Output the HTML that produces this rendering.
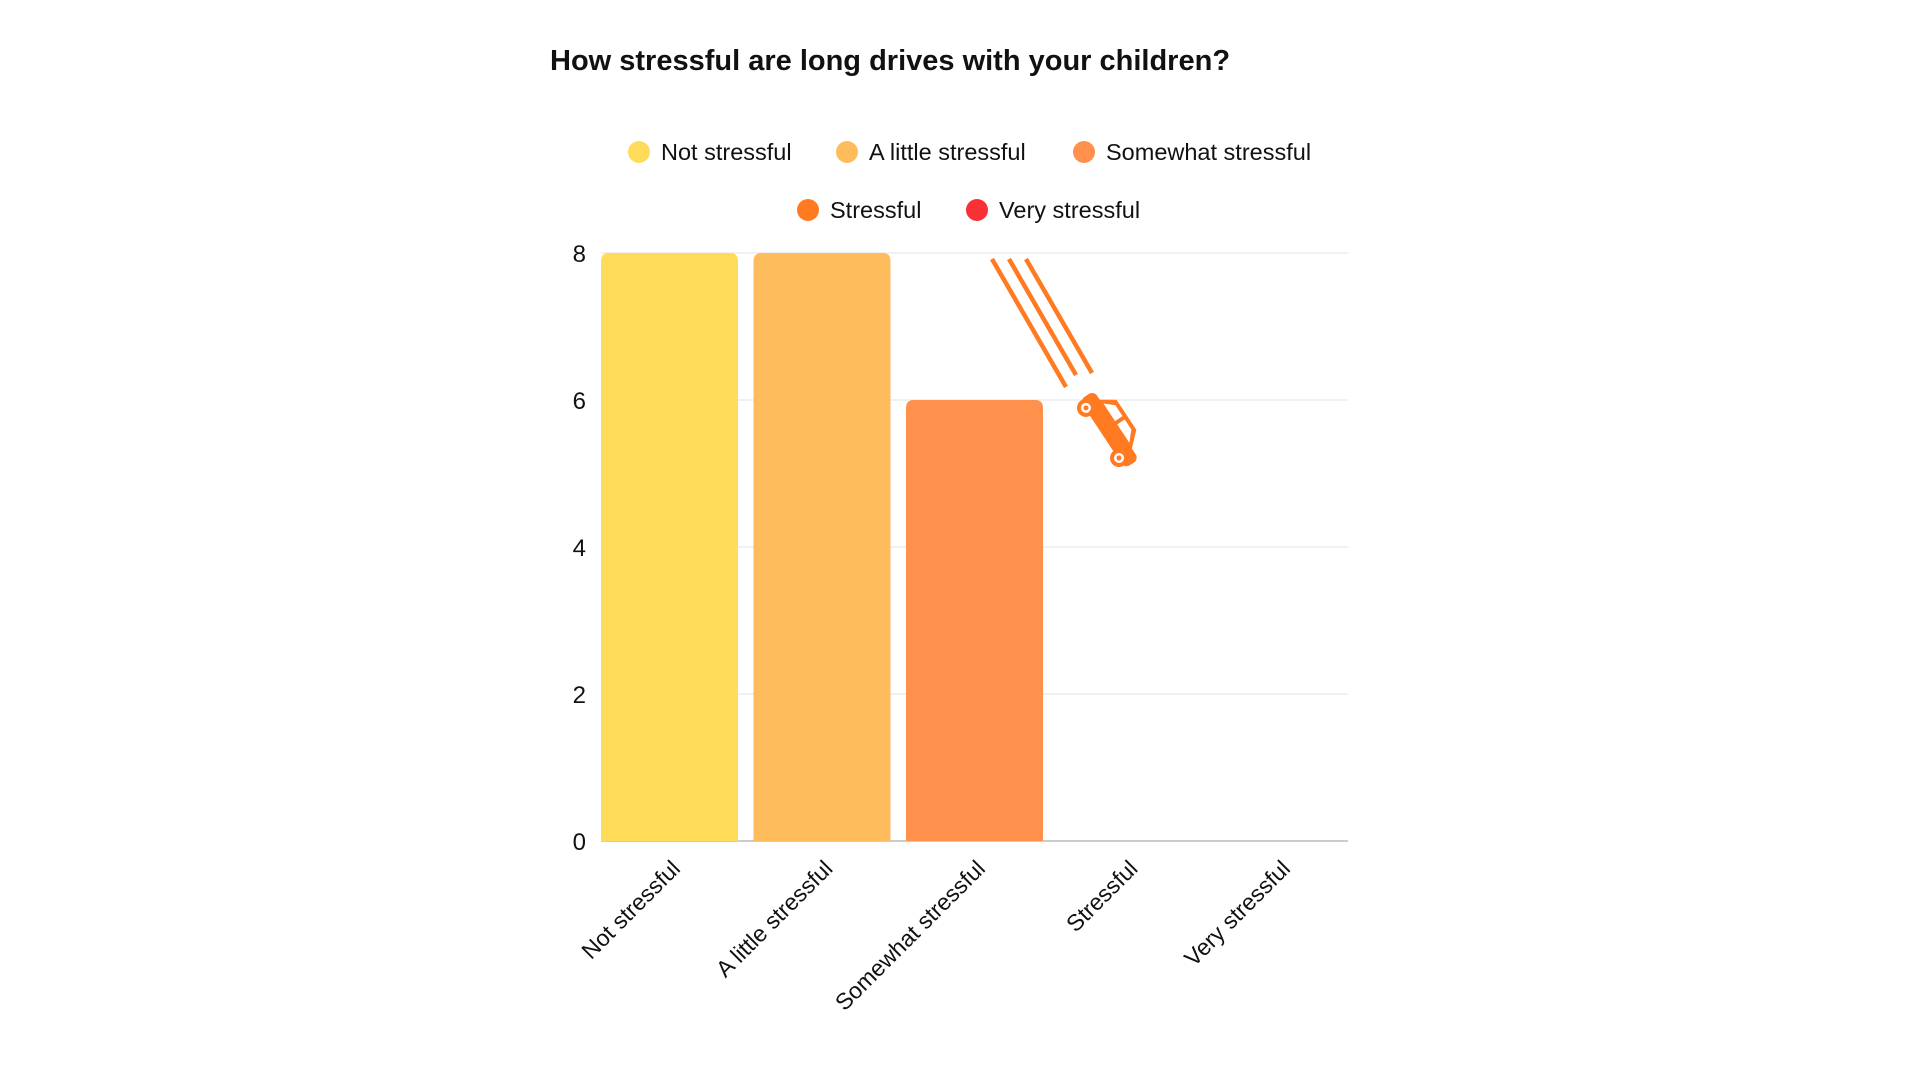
<!DOCTYPE html>
<html><head><meta charset="utf-8"><style>
body{margin:0;background:#fff;width:1920px;height:1080px;overflow:hidden;font-family:"Liberation Sans",sans-serif;}
</style></head><body>
<svg width="1920" height="1080">
<text x="550" y="70" font-size="29" font-weight="bold" fill="#111">How stressful are long drives with your children?</text>
<g id="legend"></g>
<g id="grid"></g>
<g id="bars"></g>
<g id="xlabels"></g>
<g stroke="#FF7A21" stroke-width="4.5" stroke-linecap="butt">
<line x1="992" y1="259" x2="1066" y2="387"/>
<line x1="1009" y1="259" x2="1076" y2="375"/>
<line x1="1026" y1="259" x2="1092" y2="373"/>
<g transform="translate(1110,428) rotate(56.6)" stroke="none">
<rect x="-40" y="-7" width="82" height="17" rx="6" fill="#FF7A21"/>
<path d="M-30,-6 L-20,-21 L16,-21 L30,-6 Z" fill="#FF7A21"/>
<path d="M-16,-17 L-3,-17 L-3,-8 L-24,-8 Z" fill="#fff"/>
<path d="M1,-17 L13,-17 L23,-8 L1,-8 Z" fill="#fff"/>
<circle cx="-30" cy="9" r="9" fill="#FF7A21"/><circle cx="-30" cy="9" r="5" fill="#fff"/><circle cx="-30" cy="9" r="2.5" fill="#FF7A21"/>
<circle cx="30" cy="9" r="9" fill="#FF7A21"/><circle cx="30" cy="9" r="5" fill="#fff"/><circle cx="30" cy="9" r="2.5" fill="#FF7A21"/>
</g>
</g>
</svg>
<script>
const categories=["Not stressful","A little stressful","Somewhat stressful","Stressful","Very stressful"];
const values=[8,8,6,0,0];
const colors=["#FEDC5A","#FEBC5C","#FF914D","#FF7A21","#F93036"];
const yTicks=[0,2,4,6,8];
const NS="http://www.w3.org/2000/svg";
const x0=601,step=152.5,bw=137,y0=841,yTop=253,yMax=8,xEnd=1348;
function yScale(v){return y0-(v/yMax)*(y0-yTop);}
function xScale(i){return x0+i*step;}
function mk(t,a,p){const e=document.createElementNS(NS,t);for(const k in a)e.setAttribute(k,a[k]);p.appendChild(e);return e;}
const grid=document.getElementById('grid');
yTicks.forEach(t=>{
  const y=yScale(t);
  const l=mk('line',{x1:x0,x2:xEnd,y1:y,y2:y,stroke:t===0?'#bbb':'#e3e3e3','stroke-width':t===0?1.5:1},grid);
  
  
  const tx=mk('text',{x:586,y:y+9,'font-size':24,'text-anchor':'end',fill:'#111'},grid);
  tx.textContent=t;
  
  
});
const bars=document.getElementById('bars');
values.forEach((v,i)=>{
  if(v<=0)return;
  const yt=yScale(v),x=xScale(i),r=8;
  const d=`M${x},${y0} L${x},${yt+r} Q${x},${yt} ${x+r},${yt} L${x+bw-r},${yt} Q${x+bw},${yt} ${x+bw},${yt+r} L${x+bw},${y0} Z`;
  const p=mk('path',{d:d,fill:colors[i]},bars);
  
  
});
const xl=document.getElementById('xlabels');
categories.forEach((c,i)=>{
  const cx=xScale(i)+bw/2+12,cy=870;
  const t=mk('text',{x:cx,y:cy,'font-size':23,'text-anchor':'end',fill:'#111',transform:`rotate(-45 ${cx} ${cy})`},xl);
  t.textContent=c;
  
  
});
const lg=document.getElementById('legend');
const legPos=[[639,152],[847,152],[1084,152],[808,210],[977,210]];
categories.forEach((c,i)=>{
  const g=mk('g',{},lg);
  
  
  mk('circle',{cx:legPos[i][0],cy:legPos[i][1],r:11,fill:colors[i]},g);
  const t=mk('text',{x:legPos[i][0]+22,y:legPos[i][1]+8,'font-size':23.5,fill:'#111'},g);
  t.textContent=c;
});
</script>
</body></html>
